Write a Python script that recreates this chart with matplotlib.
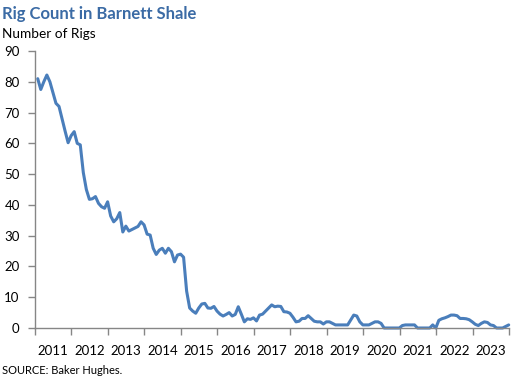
import matplotlib
matplotlib.use("Agg")
import matplotlib.pyplot as plt
import numpy as np

# Monthly rig counts, Jan 2011 .. Dec 2023
rigs = [
    81, 77.5, 80, 82.2, 80, 76.5, 73, 72, 68, 64, 60.2, 62.5,
    63.8, 60, 59.5, 50.5, 45, 41.8, 42, 42.7, 40.5, 39.4, 38.9, 41,
    36.4, 34.5, 35.5, 37.5, 31.2, 33.1, 31.5, 32, 32.5, 33, 34.5, 33.5,
    30.5, 30.2, 25.9, 23.9, 25.3, 25.9, 24.3, 25.9, 24.8, 21.5, 23.7, 24,
    23, 12, 6.5, 5.5, 4.8, 6.5, 7.8, 8, 6.5, 6.4, 7, 5.5,
    4.5, 3.9, 4.4, 5, 3.9, 4.4, 6.9, 4.5, 2, 3, 2.8, 3.3,
    2.3, 4.2, 4.5, 5.5, 6.5, 7.5, 6.9, 7.1, 7, 5.3, 5.2, 4.8,
    3.5, 2, 2.2, 3.1, 3.1, 4, 3.1, 2.2, 2, 2, 1.3, 2,
    2, 1.5, 1, 1, 1, 1, 1, 2.6, 4.2, 3.9, 2, 1,
    1, 1, 1.5, 2, 2, 1.5, 0, 0, 0, 0, 0, 0,
    0.8, 1, 1, 1, 1, 0, 0, 0, 0, 0, 1, 0,
    2.5, 3, 3.3, 3.7, 4.2, 4.2, 4, 3.1, 3.1, 3, 2.7, 2,
    1.2, 0.8, 1.5, 2, 1.8, 1, 0.8, 0, 0, 0, 0.5, 1,
]
years = [str(y) for y in range(2011, 2024)]
yticks = list(range(0, 91, 10))

plt.rcParams['font.family'] = ['Lato', 'DejaVu Sans']

fig = plt.figure(figsize=(5.32, 3.82), dpi=100)
ax = fig.add_axes([35/532, 1-328/382, (509-35)/532, (328-51)/382])

x = np.arange(len(rigs)) + 0.4
ax.plot(x, rigs, color='#4A7EBB', linewidth=2.2, solid_joinstyle='round',
        solid_capstyle='round', clip_on=False)

ax.set_xlim(-0.5, len(rigs) - 0.5)
ax.set_ylim(0, 90)
ax.set_yticks(yticks)
ax.set_yticklabels([str(v) for v in yticks], fontsize=9.5)

n_years = len(years)
ax.set_xticks([-0.5 + 12*k for k in range(n_years + 1)])
ax.set_xticklabels([])
ax.set_xticks([5.5 + 12*k for k in range(n_years)], minor=True)
ax.set_xticklabels(years, minor=True, fontsize=9.5)
ax.tick_params(axis='x', which='minor', length=0, pad=12)
ax.tick_params(axis='x', which='major', length=5, color='#868686', width=1)
ax.tick_params(axis='y', length=5, color='#868686', width=1, pad=6)

for s in ['top', 'right']:
    ax.spines[s].set_visible(False)
for s in ['left', 'bottom']:
    ax.spines[s].set_color('#868686')
    ax.spines[s].set_linewidth(1)

fig.text(2/532, 1-14/382, 'Rig Count in Barnett Shale', fontsize=12, fontweight='bold',
         color='#3B6BA5', va='center', ha='left')
fig.text(2/532, 1-34/382, 'Number of Rigs', fontsize=9.8, color='black', va='center', ha='left')
fig.text(2/532, 1-370/382, 'SOURCE: Baker Hughes.', fontsize=8, color='black', va='center', ha='left')

fig.savefig('out.png', dpi=100)
